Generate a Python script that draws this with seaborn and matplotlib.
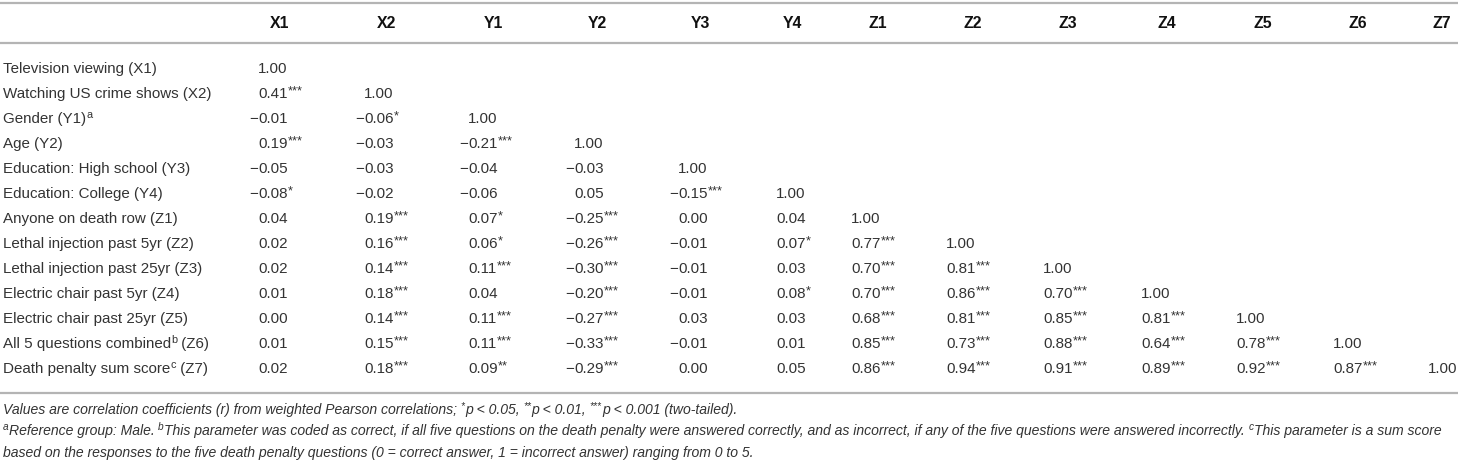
import re
import matplotlib
matplotlib.use('Agg')
import matplotlib.pyplot as plt
import seaborn as sns

# Table content
columns = ['X1', 'X2', 'Y1', 'Y2', 'Y3', 'Y4', 'Z1', 'Z2', 'Z3', 'Z4', 'Z5', 'Z6', 'Z7']
row_labels = [
    'Television viewing (X1)',
    'Watching US crime shows (X2)',
    'Gender (Y1)^a',
    'Age (Y2)',
    'Education: High school (Y3)',
    'Education: College (Y4)',
    'Anyone on death row (Z1)',
    'Lethal injection past 5yr (Z2)',
    'Lethal injection past 25yr (Z3)',
    'Electric chair past 5yr (Z4)',
    'Electric chair past 25yr (Z5)',
    'All 5 questions combined^b (Z6)',
    'Death penalty sum score^c (Z7)',
]
corr = [
    [1.00],
    [0.41, 1.00],
    [-0.01, -0.06, 1.00],
    [0.19, -0.03, -0.21, 1.00],
    [-0.05, -0.03, -0.04, -0.03, 1.00],
    [-0.08, -0.02, -0.06, 0.05, -0.15, 1.00],
    [0.04, 0.19, 0.07, -0.25, 0.00, 0.04, 1.00],
    [0.02, 0.16, 0.06, -0.26, -0.01, 0.07, 0.77, 1.00],
    [0.02, 0.14, 0.11, -0.30, -0.01, 0.03, 0.70, 0.81, 1.00],
    [0.01, 0.18, 0.04, -0.20, -0.01, 0.08, 0.70, 0.86, 0.70, 1.00],
    [0.00, 0.14, 0.11, -0.27, 0.03, 0.03, 0.68, 0.81, 0.85, 0.81, 1.00],
    [0.01, 0.15, 0.11, -0.33, -0.01, 0.01, 0.85, 0.73, 0.88, 0.64, 0.78, 1.00],
    [0.02, 0.18, 0.09, -0.29, 0.00, 0.05, 0.86, 0.94, 0.91, 0.89, 0.92, 0.87, 1.00],
]
stars = [
    [''],
    ['***', ''],
    ['', '*', ''],
    ['***', '', '***', ''],
    ['', '', '', '', ''],
    ['*', '', '', '', '***', ''],
    ['', '***', '*', '***', '', '', ''],
    ['', '***', '*', '***', '', '*', '***', ''],
    ['', '***', '***', '***', '', '', '***', '***', ''],
    ['', '***', '', '***', '', '*', '***', '***', '***', ''],
    ['', '***', '***', '***', '', '', '***', '***', '***', '***', ''],
    ['', '***', '***', '***', '', '', '***', '***', '***', '***', '***', ''],
    ['', '***', '**', '***', '', '', '***', '***', '***', '***', '***', '***', ''],
]
footnotes = [
    'Values are correlation coefficients (r) from weighted Pearson correlations; '
    '^{*}p < 0.05, ^{**}p < 0.01, ^{***}p < 0.001 (two-tailed).',
    '^aReference group: Male. ^bThis parameter was coded as correct, if all five questions on the '
    'death penalty were answered correctly, and as incorrect, if any of the five questions were '
    'answered incorrectly. ^cThis parameter is a sum score',
    'based on the responses to the five death penalty questions (0 = correct answer, '
    '1 = incorrect answer) ranging from 0 to 5.',
]

# layout (pixels)
W, H = 1458, 472
head_x = [280, 387, 493, 597, 700, 792, 878, 973, 1068, 1167, 1263, 1358, 1442]
val_x = [258, 364, 468, 574, 678, 776, 851, 946, 1043, 1141, 1236, 1333, 1428]
row_y0, row_dy = 73, 25
ink = '#333333'
rule = '#b4b4b4'
fs = 10.9

sns.set_theme(style='white')
plt.rcParams['font.family'] = ['Liberation Sans', 'DejaVu Sans']

fig = plt.figure(figsize=(W / 100, H / 100), dpi=100)
ax = fig.add_axes([0, 0, 1, 1])
ax.set_xlim(0, W)
ax.set_ylim(H, 0)
ax.axis('off')
renderer = fig.canvas.get_renderer()


def text_width(t):
    return t.get_window_extent(renderer).width


def draw_runs(x, y, s, size, style='normal'):
    # draws text with ^x or ^{xyz} superscripts, left to right
    for part in re.split(r'(\^\{[^}]*\}|\^\w)', s):
        if not part:
            continue
        if part.startswith('^'):
            t = ax.text(x, y - size * 0.5, part[1:].strip('{}'), fontsize=size * 0.72,
                        style=style, color=ink, va='baseline', ha='left')
        else:
            t = ax.text(x, y, part, fontsize=size, style=style, color=ink,
                        va='baseline', ha='left')
        x += text_width(t)
    return x


# rules
for y in [3, 43, 393]:
    ax.axhline(y, color=rule, lw=1.6)

# header
for name, x in zip(columns, head_x):
    ax.text(x, 28, name, fontsize=11.4, weight='bold', color='#111111', ha='center', va='baseline')

# body
for i, label in enumerate(row_labels):
    y = row_y0 + i * row_dy
    draw_runs(3, y, label, fs)
    for j, (v, st) in enumerate(zip(corr[i], stars[i])):
        x = val_x[j]
        if v < 0:
            ax.text(x, y, '\u2212', fontsize=fs, color=ink, ha='right', va='baseline')
        t = ax.text(x, y, f'{abs(v):.2f}', fontsize=fs, color=ink, ha='left', va='baseline')
        if st:
            ax.text(x + text_width(t) + 0.5, y - 3.5, st, fontsize=fs * 0.85, color=ink,
                    ha='left', va='baseline')

# footnotes
for k, note in enumerate(footnotes):
    draw_runs(3, 414 + k * 21.5, note, 10.12, style='italic')

fig.savefig('out.png', dpi=100)
